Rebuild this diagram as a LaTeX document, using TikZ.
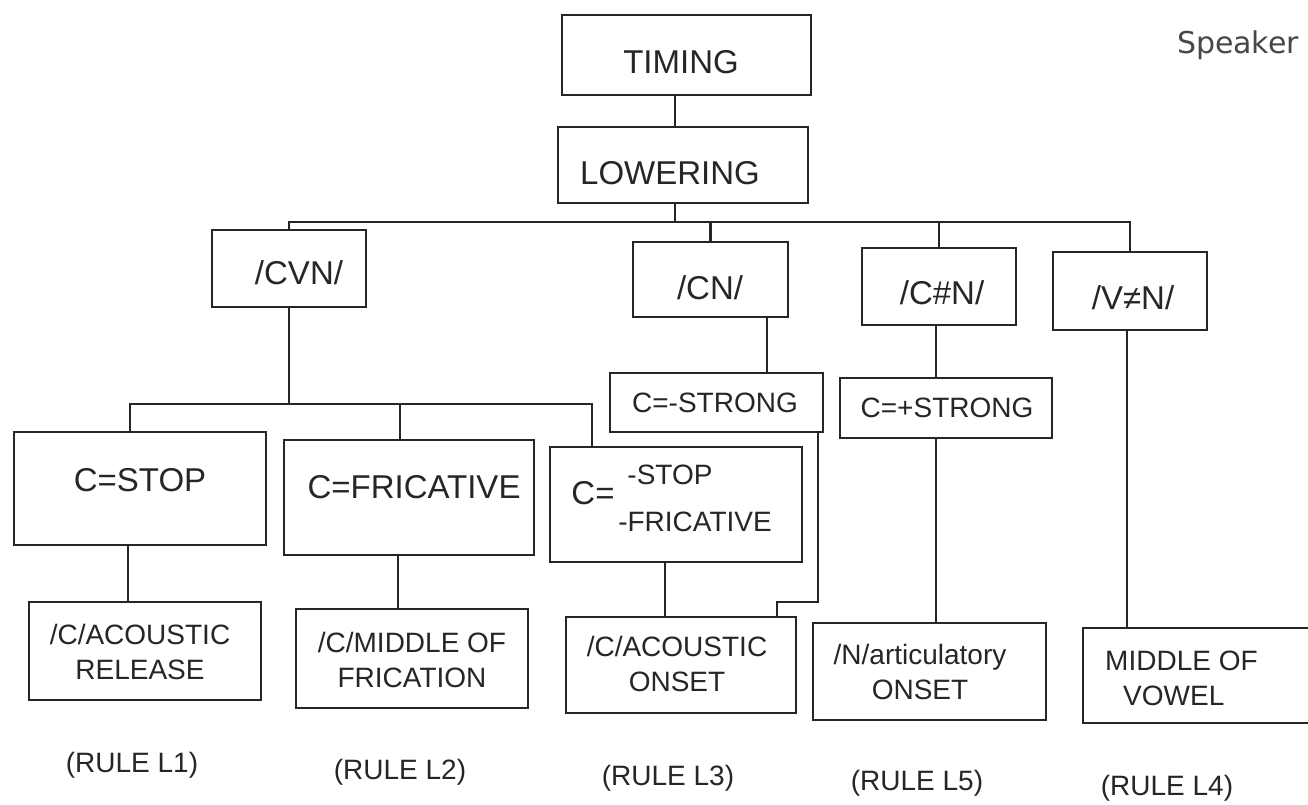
\documentclass[tikz,border=0pt]{standalone}
\usepackage{fontspec}
\setmainfont{Liberation Sans}
\newfontfamily\spkfont{DejaVu Sans}
\definecolor{ink}{HTML}{262626}
\tikzset{
  box/.style={draw=ink, line width=2.6pt, inner sep=0pt},
  wire/.style={draw=ink, line width=2.4pt},
  big/.style={font=\fontsize{33}{38}\selectfont, text=ink, inner sep=0pt},
  small/.style={font=\fontsize{28}{35}\selectfont, text=ink, inner sep=0pt, align=center},
}
\newcommand{\boxnode}[6]{\node[box, minimum width=#4pt, minimum height=#5pt] (#1) at (#2,#3) {#6};}
\begin{document}
\begin{tikzpicture}[x=1pt,y=-1pt]
\clip (0,0) rectangle (1308,805);
\fill[white] (0,0) rectangle (1308,805);

% boxes
\boxnode{timing}{686.5}{55}{249}{80}{}
\boxnode{lowering}{683}{165}{250}{76}{}
\boxnode{cvn}{289}{268.5}{154}{77}{}
\boxnode{cn}{710.5}{279.5}{155}{75}{}
\boxnode{chn}{939}{286.5}{154}{77}{}
\boxnode{vnn}{1130}{291}{154}{78}{}
\boxnode{mstrong}{716.5}{402.5}{213}{59}{}
\boxnode{pstrong}{946}{408}{212}{60}{}
\boxnode{stop}{140}{488.5}{252}{113}{}
\boxnode{fric}{409}{497.5}{250}{115}{}
\boxnode{nstop}{676}{504.5}{252}{115}{}
\boxnode{rel}{145}{651}{232}{98}{}
\boxnode{midf}{412}{658.5}{232}{99}{}
\boxnode{onset}{681}{665}{230}{96}{}
\boxnode{art}{929.5}{671.5}{233}{97}{}
\boxnode{vow}{1206.5}{675.5}{247}{95}{}

% texts
\node[big] (timingT) at (681,62) {TIMING};
\node[big] (loweringT) at (670,173) {LOWERING};
\node[big] (cvnT) at (299,273) {/CVN/};
\node[big] (cnT) at (710,288) {/CN/};
\node[big] (chnT) at (942,293) {/C\#N/};
\node[big] (vnnT) at (1133,298) {/V≠N/};
\node[small] (mstrongT) at (715,403) {C=-STRONG};
\node[small] (pstrongT) at (947,408) {C=+STRONG};
\node[big] (stopT) at (140,480) {C=STOP};
\node[big] (fricT) at (414,487) {C=FRICATIVE};
\node[big] (nstopC) at (593,493) {C=};
\node[small] (nstopA) at (670,475) {-STOP};
\node[small] (nstopB) at (695,522) {-FRICATIVE};
\node[small] (relT) at (140,652) {/C/ACOUSTIC\\RELEASE};
\node[small] (midfT) at (412,660) {/C/MIDDLE OF\\FRICATION};
\node[small] (onsetT) at (677,664) {/C/ACOUSTIC\\ONSET};
\node[small] (artT) at (920,672) {/N/articulatory\\ONSET};
\node[small, anchor=west, align=left] (vowT) at (1105,678) {MIDDLE OF\\\hspace*{18pt}VOWEL};

\node[small] (r1) at (132,765) {(RULE L1)};
\node[small] (r2) at (400,772) {(RULE L2)};
\node[small] (r3) at (668,778) {(RULE L3)};
\node[small] (r5) at (917,783) {(RULE L5)};
\node[small] (r4) at (1167,788) {(RULE L4)};

\node[font=\spkfont\fontsize{30}{34}\selectfont, text=ink!85, inner sep=0pt] (speaker) at (1238,45) {Speaker};

% connectors
\coordinate (bus) at (0,222);
\coordinate (bus2) at (0,404);
\coordinate (xA) at (675,0);
\coordinate (xS) at (130,0);
\coordinate (xF) at (400,0);
\coordinate (xN) at (592,0);
\coordinate (xC) at (767,0);
\coordinate (xR) at (818,0);
\coordinate (jog) at (777,602);
\coordinate (xP) at (936,0);
\coordinate (xV) at (1127,0);
\coordinate (xS2) at (128,0);
\coordinate (xF2) at (398,0);
\coordinate (xO) at (665,0);

\draw[wire] (timing.south -| xA) -- (lowering.north -| xA);
\draw[wire] (lowering.south -| xA) -- (xA |- bus);
\draw[wire] (cvn.north) -- (cvn.north |- bus) -- (vnn.north |- bus) -- (vnn.north);
\draw[wire] (cn.north) -- (cn.north |- bus);
\draw[wire] (chn.north) -- (chn.north |- bus);

\draw[wire] (cvn.south) -- (cvn.south |- bus2);
\draw[wire] (stop.north -| xS) -- (xS |- bus2) -- (xN |- bus2) -- (nstop.north -| xN);
\draw[wire] (fric.north -| xF) -- (xF |- bus2);

\draw[wire] (cn.south -| xC) -- (mstrong.north -| xC);
\draw[wire] (mstrong.south -| xR) -- (xR |- jog) -- (jog) -- (onset.north -| jog);
\draw[wire] (chn.south -| xP) -- (pstrong.north -| xP);
\draw[wire] (pstrong.south -| xP) -- (art.north -| xP);
\draw[wire] (vnn.south -| xV) -- (vow.north -| xV);

\draw[wire] (stop.south -| xS2) -- (rel.north -| xS2);
\draw[wire] (fric.south -| xF2) -- (midf.north -| xF2);
\draw[wire] (nstop.south -| xO) -- (onset.north -| xO);
\end{tikzpicture}
\end{document}
